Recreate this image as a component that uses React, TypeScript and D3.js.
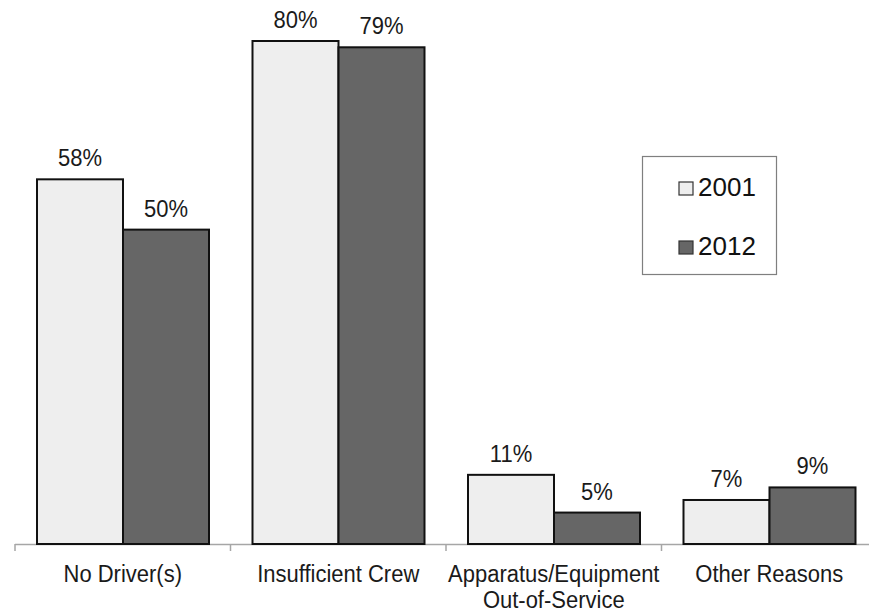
import React from "react";
import * as d3 from "d3";

const categories = ["No Driver(s)", "Insufficient Crew", "Apparatus/Equipment\nOut-of-Service", "Other Reasons"];
const years = ["2001", "2012"];
const values2001 = [58, 80, 11, 7];
const values2012 = [50, 79, 5, 9];

const W = 869;
const H = 612;
const colors = ["#eeeeee", "#666666"];
const font = "Liberation Sans, Arial, sans-serif";

// text drawn slightly taller than wide, anchored at its baseline
function Label({ x, y, size, anchor = "middle", children }: { x: number; y: number; size: number; anchor?: string; children: React.ReactNode }) {
  return (
    <text transform={`translate(${x},${y}) scale(1,1.1)`} textAnchor={anchor} fontFamily={font} fontSize={size} fill="#1a1a1a">
      {children}
    </text>
  );
}

export default function App() {
  const x = d3.scaleBand<string>().domain(categories).range([15, 877]).paddingInner(0).paddingOuter(0);
  const inner = d3.scaleBand<string>().domain(years).range([22, x.bandwidth() - 21.5]).padding(0);
  const y = d3.scaleLinear().domain([0, 80]).range([544, 41]);
  const series = [values2001, values2012];

  return (
    <svg width={W} height={H} style={{ position: "absolute", left: 0, top: 0, background: "#fff" }}>
      {/* category axis */}
      <line x1={15} x2={877} y1={544.5} y2={544.5} stroke="#a6a6a6" strokeWidth={1.5} />
      {[...categories.map((c) => x(c)!), 877].map((t, i) => (
        <line key={i} x1={t} x2={t} y1={544} y2={551} stroke="#a6a6a6" strokeWidth={1.5} />
      ))}
      {categories.map((c, ci) => (
        <g key={c} transform={`translate(${x(c)},0)`}>
          {years.map((yr, si) => {
            const v = series[si][ci];
            const bx = inner(yr)!;
            return (
              <g key={yr}>
                <rect x={bx} y={y(v)} width={inner.bandwidth()} height={544 - y(v)} fill={colors[si]} stroke="#111" strokeWidth={2} />
                <Label x={bx + inner.bandwidth() / 2} y={y(v) - 13} size={22}>
                  {v}%
                </Label>
              </g>
            );
          })}
          {c.split("\n").map((line, li) => (
            <Label key={li} x={x.bandwidth() / 2} y={582 + li * 26} size={22}>
              {line}
            </Label>
          ))}
        </g>
      ))}
      {/* legend */}
      <rect x={642.5} y={156.5} width={134} height={118} fill="#fff" stroke="#7f7f7f" strokeWidth={1.2} />
      {years.map((yr, i) => (
        <g key={yr}>
          <rect x={679} y={182 + i * 59} width={14} height={13} fill={colors[i]} stroke="#333" strokeWidth={1.2} />
          <text x={698} y={196 + i * 59} fontFamily={font} fontSize={26} fill="#111">
            {yr}
          </text>
        </g>
      ))}
    </svg>
  );
}
